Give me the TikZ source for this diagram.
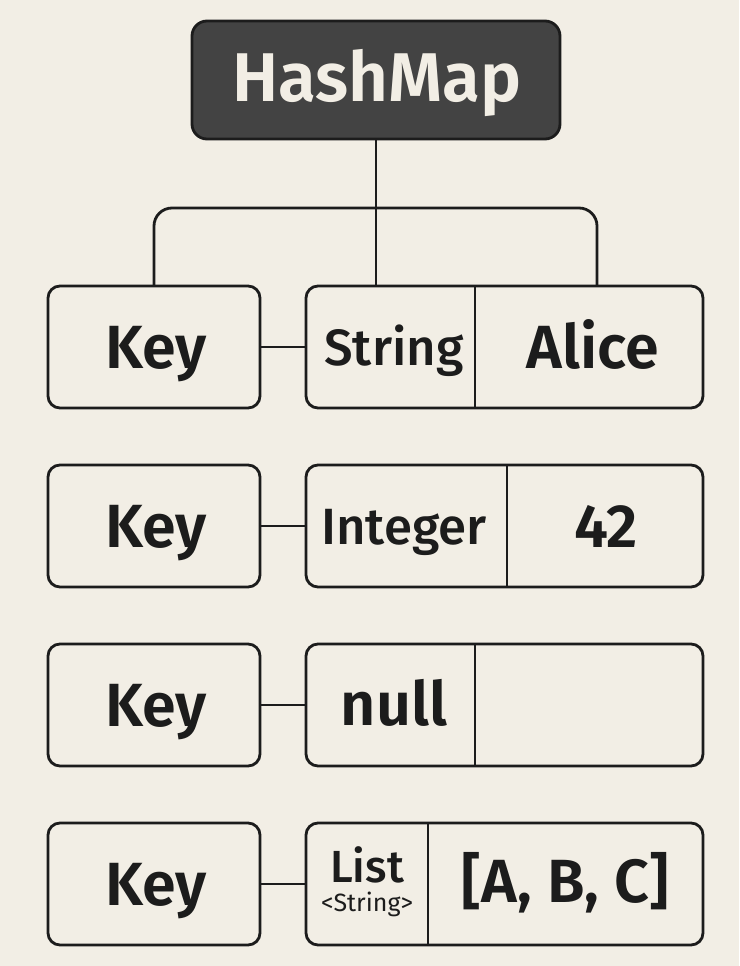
\documentclass[tikz,border=0pt]{standalone}
\usepackage{fontspec}
\setmainfont{Fira Sans}
\newfontfamily\semib{Fira Sans SemiBold}
\newfontfamily\medf{Fira Sans Medium}
\definecolor{bgc}{HTML}{F2EEE5}
\definecolor{linec}{HTML}{1C1C1C}
\definecolor{darkc}{HTML}{434343}
\tikzset{
  box/.style={draw=linec, line width=2.8pt, rounded corners=12pt, minimum width=#1, minimum height=122pt, inner sep=0pt, outer sep=0pt, fill=bgc},
  conn/.style={draw=linec, line width=2.8pt},
  lbl/.style={anchor=base, inner sep=0pt, text=linec},
  big/.style={lbl, font=\semib\fontsize{61}{61}\selectfont},
  mid/.style={lbl, font=\medf\fontsize{#1}{#1}\selectfont},
}
\begin{document}
\begin{tikzpicture}[x=1pt,y=-1pt]
\fill[bgc] (0,0) rectangle (739,966);
\useasboundingbox (0,0) rectangle (739,966);
% root
\node[box=368pt, minimum height=118pt, fill=darkc, anchor=north west, rounded corners=15pt] (hm) at (192,21) {};
\node[lbl, anchor=base, text=bgc, font=\semib\fontsize{69}{69}\selectfont] (hmt) at (377,101) {HashMap};
% rows
\foreach \r/\t in {1/286,2/465,3/644,4/823}{
  \node[box=212pt, anchor=north west] (k\r) at (48,\t) {};
  \node[box=397pt, anchor=north west] (v\r) at (306,\t) {};
  \draw[conn] (k\r.east) -- (v\r.west);
}
% dividers
\coordinate (d1) at (475,0);
\coordinate (d2) at (507,0);
\coordinate (d3) at (475,0);
\coordinate (d4) at (428,0);
\foreach \r in {1,2,3,4}{
  \draw[conn] (d\r |- v\r.north) -- (d\r |- v\r.south);
}
% tree connectors
\coordinate (bar) at (376,208);
\coordinate (rl) at (597,286);
\draw[conn] (hm.south) -- (hm.south |- v1.north);
\draw[conn, rounded corners=18pt] (k1.north) |- (bar) -| (rl);
% labels
\foreach \r/\c in {1/347,2/526,3/705,4/884}{
  \node[big] (kt\r) at (156,\c+21) {Key};
}
\node[mid=51] (s1) at (394,365) {String};
\node[mid=51] (i2) at (404,544) {Integer};
\node[big] (a1) at (593,368) {Alice};
\node[big] (n2) at (606,547) {42};
\node[big] (nl3) at (394,725) {null};
\node[mid=45] (l4) at (367,882) {List};
\node[lbl, font=\fontsize{25}{25}\selectfont] (l4s) at (367,911) {<String>};
\node[big] (abc4) at (565,902) {[A, B, C]};
\end{tikzpicture}
\end{document}
